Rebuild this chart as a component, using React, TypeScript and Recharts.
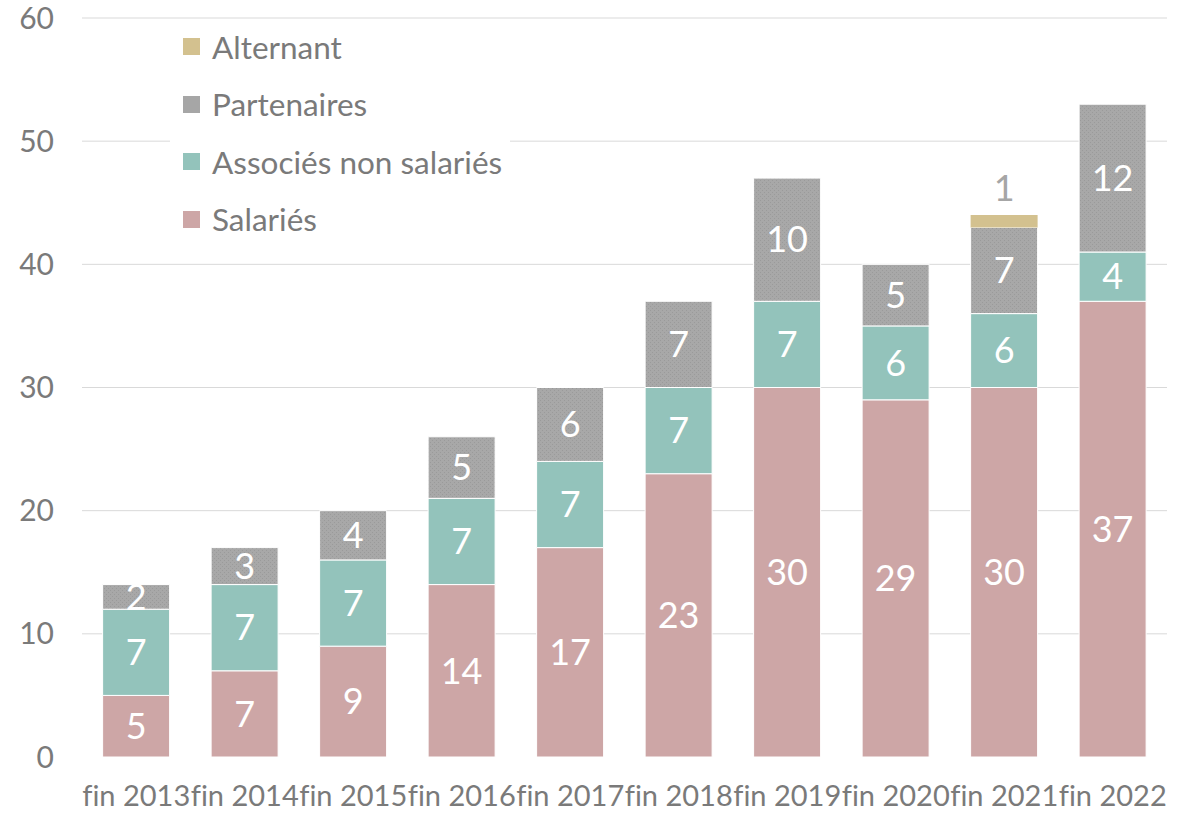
import { Bar, BarChart, CartesianGrid, LabelList, XAxis, YAxis } from "recharts";

const YEARS = ["fin 2013", "fin 2014", "fin 2015", "fin 2016", "fin 2017", "fin 2018", "fin 2019", "fin 2020", "fin 2021", "fin 2022"];
const SALARIES = [5, 7, 9, 14, 17, 23, 30, 29, 30, 37];
const ASSOCIES = [7, 7, 7, 7, 7, 7, 7, 6, 6, 4];
const PARTENAIRES = [2, 3, 4, 5, 6, 7, 10, 5, 7, 12];
const ALTERNANT = [0, 0, 0, 0, 0, 0, 0, 0, 1, 0];
const Y_TICKS = [0, 10, 20, 30, 40, 50, 60];

const PINK = "#cda6a6";
const TEAL = "#93c3bb";
const GREY = "#a6a6a6";
const TAN = "#d3c18f";
const TEXT = "#7a7a7a";
const FONT = "Lato, 'Open Sans', sans-serif";
const NO_LIG = { fontVariantLigatures: "none" } as const;

const data = YEARS.map((label, i) => ({
  label,
  salaries: SALARIES[i],
  associes: ASSOCIES[i],
  partenaires: PARTENAIRES[i],
  alternant: ALTERNANT[i],
}));

const LEGEND = [
  { name: "Alternant", color: TAN },
  { name: "Partenaires", color: GREY },
  { name: "Associés non salariés", color: TEAL },
  { name: "Salariés", color: PINK },
];

// legend box sits inside the plot, white background hides the grid behind it
function LegendBox() {
  return (
    <div
      style={{
        position: "absolute",
        left: 170,
        top: 20,
        height: 230,
        overflow: "hidden",
        background: "#fff",
        padding: "0 8px 0 13px",
        fontFamily: FONT,
      }}
    >
      <div style={{ marginTop: -2 }}>
        {LEGEND.map((it) => (
          <div key={it.name} style={{ display: "flex", alignItems: "center", height: 57.5, fontSize: 31.5, color: TEXT }}>
            <div style={{ width: 17, height: 17, background: it.color, marginRight: 12 }} />
            {it.name}
          </div>
        ))}
      </div>
    </div>
  );
}

const hideZero = (v: any) => (v ? v : "");

export default function App() {
  return (
    <div style={{ position: "absolute", left: 0, top: 0, background: "#fff", width: 1184, height: 815 }}>
      <BarChart
        width={1184}
        height={815}
        data={data}
        margin={{ top: 18, right: 17, bottom: 0, left: 0 }}
        barCategoryGap="19%"
      >
        <defs>
          <pattern id="pat-grey" width={4} height={4} patternUnits="userSpaceOnUse">
            <rect width={4} height={4} fill="#a8a8a8" />
            <rect width={1} height={1} x={0} y={0} fill="#9a9a9a" />
            <rect width={1} height={1} x={2} y={2} fill="#9a9a9a" />
          </pattern>
        </defs>
        <CartesianGrid stroke="#d9d9d9" vertical={false} horizontalValues={[10, 20, 30, 40, 50, 60]} />
        <XAxis
          dataKey="label"
          axisLine={false}
          tickLine={false}
          height={58}
          tickMargin={22}
          interval={0}
          tick={{ fill: TEXT, fontSize: 29, fontFamily: FONT, style: NO_LIG }}
        />
        <YAxis
          width={82}
          domain={[0, 60]}
          ticks={Y_TICKS}
          axisLine={false}
          tickLine={false}
          tickMargin={22}
          tick={{ fill: TEXT, fontSize: 30, fontFamily: FONT }}
        />
        <Bar dataKey="salaries" name="Salariés" stackId="a" fill={PINK} stroke="#fff" strokeWidth={1} isAnimationActive={false}>
          <LabelList dataKey="salaries" position="center" fill="#fff" fontSize={36} fontFamily={FONT} />
        </Bar>
        <Bar dataKey="associes" name="Associés non salariés" stackId="a" fill={TEAL} stroke="#fff" strokeWidth={1} isAnimationActive={false}>
          <LabelList dataKey="associes" position="center" fill="#fff" fontSize={36} fontFamily={FONT} />
        </Bar>
        <Bar dataKey="partenaires" name="Partenaires" stackId="a" fill="url(#pat-grey)" stroke="#fff" strokeWidth={1} isAnimationActive={false}>
          <LabelList dataKey="partenaires" position="center" fill="#fff" fontSize={36} fontFamily={FONT} />
        </Bar>
        <Bar dataKey="alternant" name="Alternant" stackId="a" fill={TAN} isAnimationActive={false}>
          <LabelList dataKey="alternant" position="top" offset={14} formatter={hideZero} fill={GREY} fontSize={36} fontFamily={FONT} />
        </Bar>
      </BarChart>
      <LegendBox />
    </div>
  );
}
